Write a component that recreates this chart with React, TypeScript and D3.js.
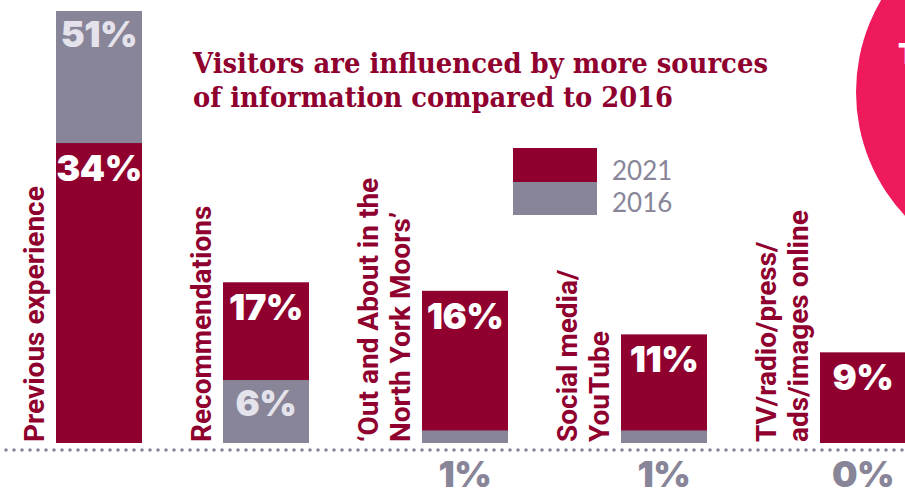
import React from "react";
import * as d3 from "d3";

const labelLines: string[][] = [
  ["Previous experience"],
  ["Recommendations"],
  ["‘Out and About in the", "North York Moors’"],
  ["Social media/", "YouTube"],
  ["TV/radio/press/", "ads/images online"],
];
const values2021 = [34, 17, 16, 11, 9];
const values2016 = [51, 6, 1, 1, 0];
const seriesNames = ["2021", "2016"];
const titleLines = [
  "Visitors are influenced by more sources",
  "of information compared to 2016",
];

const W = 905;
const H = 491;
const RED = "#8f002f";
const GREY = "#888599";
const LIGHT = "#e4e3eb";
const PINK = "#ee1a5b";

const baseY = 443;
const barW = 86;
const capH = 20;
const lineStep = 32;
const gapAfterLabel = 12;
const groupGap = 49;

export default function App() {
  const y = d3.scalePow().exponent(0.9).domain([0, 51]).range([baseY, 11]);

  // flow layout: rotated label lines, then the bar
  let cursor = 24;
  const groups = labelLines.map((lines, i) => {
    const baselines = lines.map((_, k) => cursor + capH + k * lineStep);
    const barX = baselines[baselines.length - 1] + gapAfterLabel;
    cursor = barX + barW + groupGap;
    return { lines, baselines, barX, v21: values2021[i], v16: values2016[i] };
  });

  const valueFont = { fontFamily: "Inter", fontWeight: 900, fontSize: 36, letterSpacing: -0.5 };

  return (
    <svg
      width={W}
      height={H}
      style={{ position: "absolute", left: 0, top: 0, display: "block" }}
    >
      <rect width={W} height={H} fill="#fff" />
      <circle cx={1037} cy={92} r={181} fill={PINK} />
      <text x={898} y={64} fill="#fff" fontFamily="Inter" fontWeight={900} fontSize={28}>
        T
      </text>

      {/* title */}
      {titleLines.map((t, i) => (
        <text
          key={t}
          x={193}
          y={73 + i * 34}
          fill={RED}
          fontFamily="DejaVu Serif"
          fontWeight="bold"
          fontSize={27}
          textLength={i === 0 ? 575 : 480}
          lengthAdjust="spacingAndGlyphs"
        >
          {t}
        </text>
      ))}

      {/* legend */}
      {seriesNames.map((s, i) => (
        <g key={s}>
          <rect x={513} y={148 + i * 34} width={84} height={i === 0 ? 34 : 33} fill={i === 0 ? RED : GREY} />
          <text x={612} y={180 + i * 32} fill={GREY} fontFamily="Lato" fontSize={26}>
            {s}
          </text>
        </g>
      ))}

      {groups.map((g, i) => {
        const bars = [
          { v: g.v21, fill: RED },
          { v: g.v16, fill: GREY },
        ].sort((a, b) => b.v - a.v);
        const cx = g.barX + barW / 2;
        const top21 = y(g.v21);
        const top16 = y(g.v16);
        const h16 = baseY - top16;
        return (
          <g key={i}>
            {g.lines.map((l, k) => (
              <text
                key={l}
                transform={`translate(${g.baselines[k]},${baseY - 1}) rotate(-90)`}
                fill={RED}
                fontFamily="Roboto"
                fontWeight={700}
                fontSize={28}
              >
                {l}
              </text>
            ))}
            {bars.map((b, j) => (
              <rect
                key={j}
                x={g.barX}
                y={y(b.v)}
                width={barW}
                height={baseY - y(b.v)}
                fill={b.fill}
              />
            ))}
            <text x={cx} y={top21 + 38} textAnchor="middle" fill="#fff" {...valueFont}>
              {g.v21}%
            </text>
            {h16 > 40 ? (
              <text x={cx} y={top16 + 36} textAnchor="middle" fill={LIGHT} {...valueFont}>
                {g.v16}%
              </text>
            ) : (
              <text x={cx} y={487} textAnchor="middle" fill={GREY} {...valueFont}>
                {g.v16}%
              </text>
            )}
          </g>
        );
      })}

      {/* dotted baseline */}
      <line
        x1={6}
        x2={W}
        y1={450}
        y2={450}
        stroke={GREY}
        strokeWidth={3.5}
        strokeLinecap="round"
        strokeDasharray="0 8"
      />
    </svg>
  );
}
